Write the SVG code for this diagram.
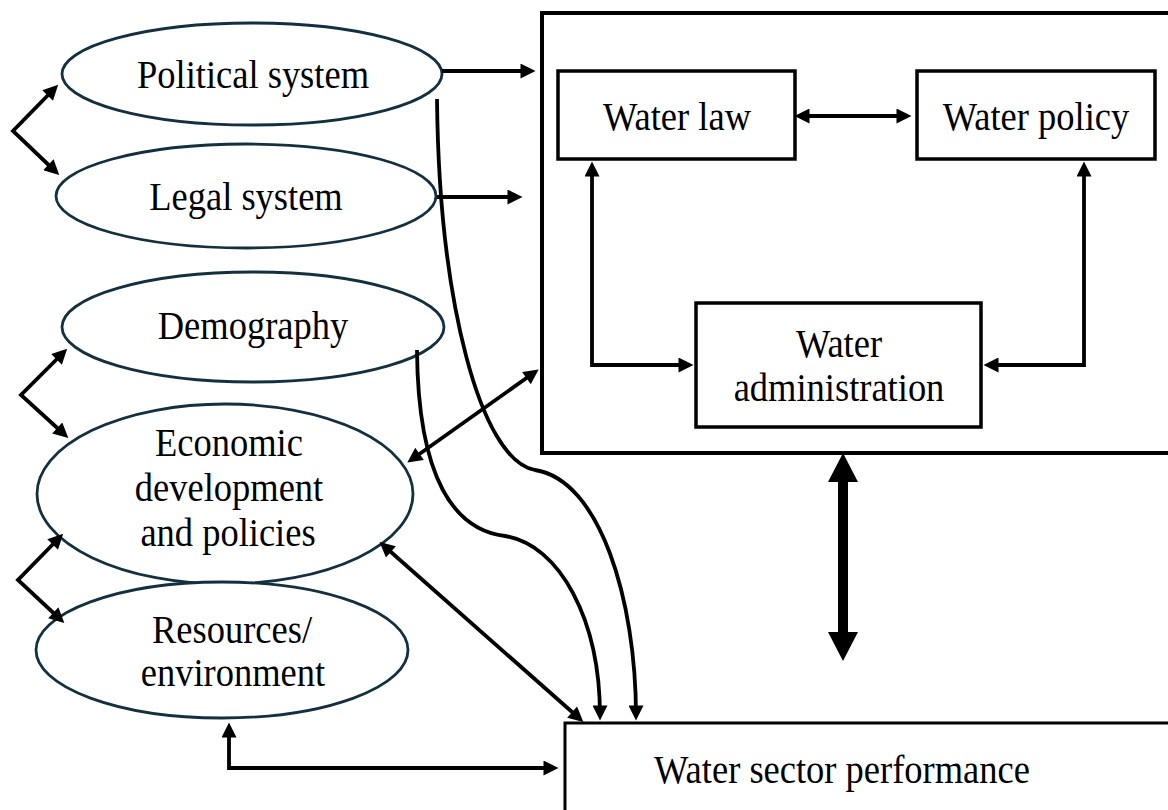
<svg xmlns="http://www.w3.org/2000/svg" width="1168" height="810" viewBox="0 0 1168 810">
<style>
.ell{fill:#fff;stroke:#14303f;stroke-width:2.8}
.box{fill:#fff;stroke:#000;stroke-width:3.5}
.t{font-family:"Liberation Serif","Times New Roman",serif;font-size:41px;fill:#000;text-anchor:middle}
.c{fill:none;stroke:#000;stroke-width:3.8}
</style>
<defs>
<marker id="ah" viewBox="0 0 10 10" refX="7" refY="5" markerWidth="16" markerHeight="15" markerUnits="userSpaceOnUse" orient="auto-start-reverse">
<path d="M0,0 L10,5 L0,10 z" fill="#000"/>
</marker>
</defs>
<rect width="1168" height="810" fill="#fff"/>
<g id="outer-box"><rect x="542" y="13" width="640" height="440" fill="#fff" stroke="#000" stroke-width="4"/></g>
<g id="water-law"><rect class="box" x="558" y="71" width="237" height="88"/><text class="t" transform="translate(677,130) scale(0.89,1)">Water law</text></g>
<g id="water-policy"><rect class="box" x="917" y="71" width="238" height="88"/><text class="t" transform="translate(1036,130) scale(0.89,1)">Water policy</text></g>
<g id="water-administration"><rect class="box" x="696" y="303" width="285" height="124"/><text class="t" transform="translate(839,357) scale(0.89,1)">Water</text><text class="t" transform="translate(839,401) scale(0.89,1)">administration</text></g>
<g id="water-sector-performance"><rect fill="#fff" stroke="#000" stroke-width="3" x="565" y="723" width="610" height="100"/><text class="t" transform="translate(842,783) scale(0.89,1)">Water sector performance</text></g>
<g id="political-system"><ellipse class="ell" cx="252" cy="74" rx="190" ry="51"/><text class="t" transform="translate(253,88) scale(0.89,1)">Political system</text></g>
<g id="legal-system"><ellipse class="ell" cx="246" cy="196" rx="190" ry="52"/><text class="t" transform="translate(246,210) scale(0.89,1)">Legal system</text></g>
<g id="demography"><ellipse class="ell" cx="253" cy="327" rx="191" ry="55"/><text class="t" transform="translate(253,339) scale(0.89,1)">Demography</text></g>
<g id="economic-development"><ellipse class="ell" cx="225" cy="494" rx="188" ry="90"/><text class="t" transform="translate(229,456) scale(0.89,1)">Economic</text><text class="t" transform="translate(229,501) scale(0.89,1)">development</text><text class="t" transform="translate(228,546) scale(0.89,1)">and policies</text></g>
<g id="resources-environment"><ellipse class="ell" cx="222" cy="650" rx="186" ry="68"/><text class="t" transform="translate(232,643) scale(0.89,1)">Resources/</text><text class="t" transform="translate(233,686) scale(0.89,1)">environment</text></g>
<g id="connectors">
<path class="c" d="M799 116 H907" marker-start="url(#ah)" marker-end="url(#ah)"/>
<path class="c" d="M592 166 V365 H689" marker-start="url(#ah)" marker-end="url(#ah)"/>
<path class="c" d="M1084 166 V365 H988" marker-start="url(#ah)" marker-end="url(#ah)"/>
<path class="c" d="M442 71 H531" marker-end="url(#ah)"/>
<path class="c" d="M437 197 H518" marker-end="url(#ah)"/>
<path class="c" d="M55 88 L13 131 L56 172" marker-start="url(#ah)" marker-end="url(#ah)"/>
<path class="c" d="M64 352 L21 395 L65 435" marker-start="url(#ah)" marker-end="url(#ah)"/>
<path class="c" d="M60 537 L18 580 L61 620" marker-start="url(#ah)" marker-end="url(#ah)"/>
<path class="c" d="M411 460 L535 372" marker-start="url(#ah)" marker-end="url(#ah)"/>
<path class="c" d="M383 545 L580 719" marker-start="url(#ah)" marker-end="url(#ah)"/>
<path class="c" d="M229 727 V768 H554" marker-start="url(#ah)" marker-end="url(#ah)"/>
<path class="c" d="M437 99 C439 300 480 460 535 470 C600 480 636 600 636 716" marker-end="url(#ah)"/>
<path class="c" d="M417 350 C418 480 455 530 505 536 C560 545 600 620 600 716" marker-end="url(#ah)"/>
<path d="M843 453 L858 482 L848 482 L848 632 L858 632 L843 661 L828 632 L838 632 L838 482 L828 482 Z" fill="#000"/>
</g>
</svg>
